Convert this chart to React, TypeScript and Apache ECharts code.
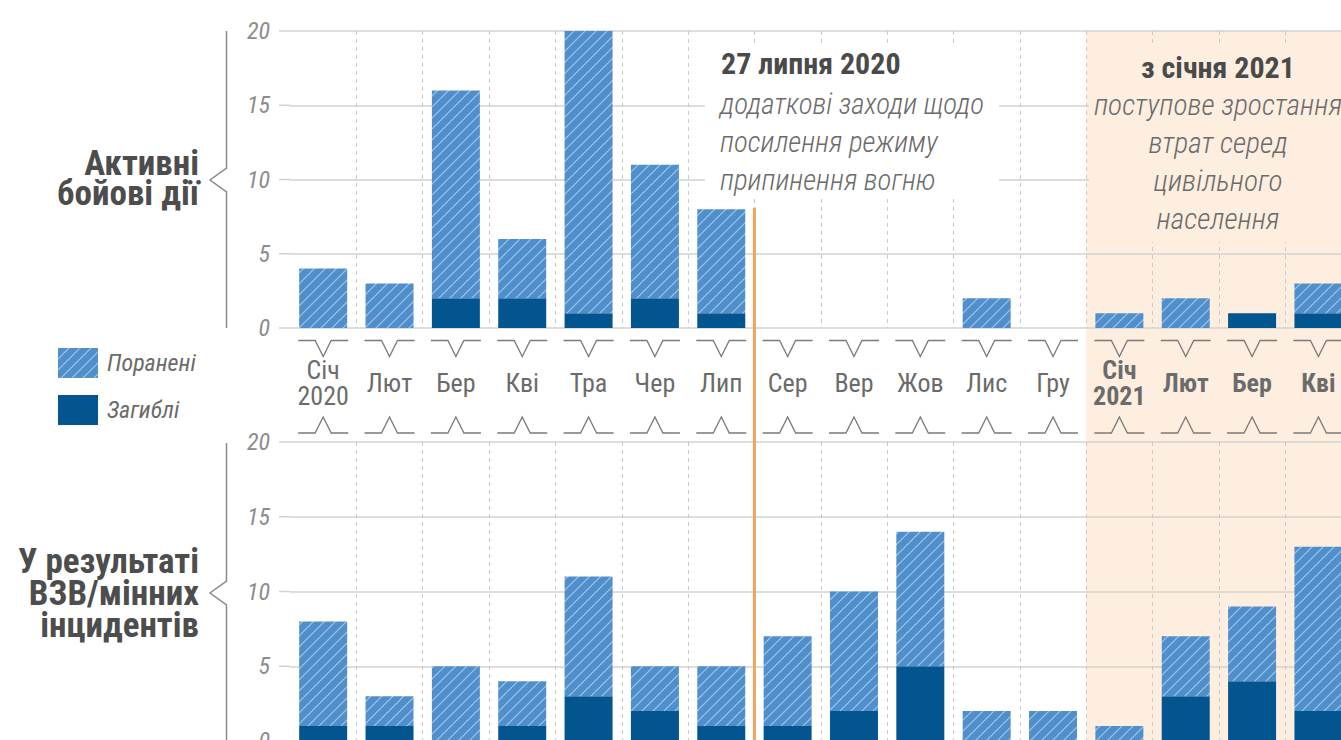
import React, { useEffect, useRef } from "react";
import * as echarts from "echarts";

// ---------- data ----------
const months = [
  "Січ\n2020", "Лют", "Бер", "Кві", "Тра", "Чер", "Лип", "Сер",
  "Вер", "Жов", "Лис", "Гру", "Січ\n2021", "Лют", "Бер", "Кві",
];
const boldFromIndex = 12;

// Active hostilities
const combatKilled = [0, 0, 2, 2, 1, 2, 1, 0, 0, 0, 0, 0, 0, 0, 1, 1];
const combatInjured = [4, 3, 14, 4, 19, 9, 7, 0, 0, 0, 2, 0, 1, 2, 0, 2];

// ERW / mine incidents
const mineKilled = [1, 1, 0, 1, 3, 2, 1, 1, 2, 5, 0, 0, 0, 3, 4, 2];
const mineInjured = [7, 2, 5, 3, 8, 3, 4, 6, 8, 9, 2, 2, 1, 4, 5, 11];

const yTicks = [0, 5, 10, 15, 20];
const ceasefireMonthIndex = 6; // line drawn after "Лип"
const ceasefireLineTop = 8.1;
const shadeFromIndex = 12;

const injuredName = "Поранені";
const killedName = "Загиблі";
const panelTitleTop = ["Активні", "бойові дії"];
const panelTitleBottom = ["У результаті", "ВЗВ/мінних", "інцидентів"];
const note1Title = "27 липня 2020";
const note1Lines = ["додаткові заходи щодо", "посилення режиму", "припинення вогню"];
const note2Title = "з січня 2021";
const note2Lines = ["поступове зростання", "втрат серед", "цивільного", "населення"];

// ---------- styles ----------
const FONT = "'Roboto Condensed', 'Liberation Sans Narrow', 'DejaVu Sans Condensed', Roboto, sans-serif";
const LIGHT = "#4f8fcc";
const DARK = "#02558f";
const PEACH = "#fdeee0";
const GRID_LINE = "#d2d2d2";
const DECOR = "#7a7a7a";

function makeHatch() {
  const S = 11;
  const c = document.createElement("canvas");
  c.width = S;
  c.height = S;
  const ctx = c.getContext("2d")!;
  ctx.fillStyle = LIGHT;
  ctx.fillRect(0, 0, S, S);
  ctx.strokeStyle = "rgba(255,255,255,0.5)";
  ctx.lineWidth = 1.1;
  ctx.beginPath();
  ctx.moveTo(-1, S + 1);
  ctx.lineTo(S + 1, -1);
  ctx.moveTo(-S / 2 - 1, S / 2 + 1);
  ctx.lineTo(S / 2 + 1, -S / 2 - 1);
  ctx.moveTo(S / 2 - 1, S * 1.5 + 1);
  ctx.lineTo(S * 1.5 + 1, S / 2 - 1);
  ctx.stroke();
  return { image: c, repeat: "repeat", imageWidth: S, imageHeight: S } as any;
}

function buildOption() {
  const hatch = makeHatch();
  const GL = 290;
  const GW = 1061.6;

  const yAxisCommon = {
    type: "value",
    min: 0,
    max: 20,
    interval: 5,
    axisLine: { show: false },
    axisTick: { show: false },
    axisLabel: {
      margin: 20,
      fontFamily: FONT,
      fontStyle: "italic",
      fontSize: 24,
      color: "#8c8c8c",
    },
    splitLine: { lineStyle: { color: GRID_LINE, width: 1.5 } },
  };

  const xAxisCommon = {
    type: "category",
    data: months,
    axisLine: { show: false },
    axisTick: { show: false },
    splitLine: {
      show: true,
      showMinLine: false,
      interval: 0,
      lineStyle: { color: "#c9c9c9", width: 1, type: [4, 4] },
    },
  };

  const barCommon = { type: "bar", barWidth: 48, emphasis: { disabled: true }, silent: true };

  const gridExt = (axisIdx: number) => ({
    type: "custom",
    xAxisIndex: axisIdx,
    yAxisIndex: axisIdx,
    clip: false,
    silent: true,
    z: 1,
    data: yTicks.map((v) => [0, v]),
    renderItem: (params: any, api: any) => {
      const p = api.coord([0, api.value(1)]);
      const band = api.size([1, 0])[0];
      const x = p[0] - band / 2;
      return {
        type: "line",
        shape: { x1: x - 11, y1: p[1], x2: x, y2: p[1] },
        style: { stroke: GRID_LINE, lineWidth: 1.5 },
      };
    },
  });

  const graphic: any[] = [];
  // annotation backgrounds
  graphic.push({ type: "rect", shape: { x: 705, y: 45, width: 294, height: 153 }, style: { fill: "#fff" }, z: 1 });
  graphic.push({ type: "rect", shape: { x: 1089, y: 45, width: 300, height: 197 }, style: { fill: PEACH }, z: 1 });
  const txt = (text: string, x: number, y: number, opts: any) => ({
    type: "text",
    x,
    y,
    z: 5,
    style: {
      text,
      fontFamily: FONT,
      align: opts.align || "left",
      textAlign: opts.align || "left",
      verticalAlign: "middle",
      textVerticalAlign: "middle",
      fontSize: opts.size,
      fontWeight: opts.weight || "normal",
      fontStyle: opts.style || "normal",
      fill: opts.color,
    },
  });
  graphic.push(txt(note1Title, 721, 63, { size: 30, weight: "bold", color: "#4a4a4a" }));
  note1Lines.forEach((l, i) =>
    graphic.push(txt(l, 720, 104 + i * 38, { size: 29, weight: 300, style: "italic", color: "#6b6b6b" }))
  );
  graphic.push(txt(note2Title, 1218, 67, { size: 30, weight: "bold", color: "#4a4a4a", align: "center" }));
  note2Lines.forEach((l, i) =>
    graphic.push(txt(l, 1218, 105 + i * 38, { size: 29.5, weight: 300, style: "italic", color: "#6b6b6b", align: "center" }))
  );
  // panel titles
  panelTitleTop.forEach((l, i) =>
    graphic.push(txt(l, 199, 163 + i * 30, { size: 35, weight: "bold", color: "#4d4d4d", align: "right" }))
  );
  panelTitleBottom.forEach((l, i) =>
    graphic.push(txt(l, 199, 561 + i * 32, { size: 35, weight: "bold", color: "#4d4d4d", align: "right" }))
  );
  // brackets
  graphic.push({
    type: "polyline",
    z: 5,
    shape: { points: [[226.5, 31], [226.5, 168], [210, 180], [226.5, 192], [226.5, 328]] },
    style: { stroke: "#8a8a8a", lineWidth: 1.5, fill: "none" },
  });
  graphic.push({
    type: "polyline",
    z: 5,
    shape: { points: [[226.5, 443], [226.5, 581], [210, 593], [226.5, 605], [226.5, 780]] },
    style: { stroke: "#8a8a8a", lineWidth: 1.5, fill: "none" },
  });

  return {
    animation: false,
    backgroundColor: "#fff",
    textStyle: { fontFamily: FONT },
    grid: [
      { left: GL, top: 31, width: GW, height: 297 },
      { left: GL, top: 442, width: GW, height: 299 },
    ],
    xAxis: [
      {
        ...xAxisCommon,
        gridIndex: 0,
        axisLabel: {
          interval: 0,
          margin: 55,
          verticalAlign: "middle",
          formatter: (value: string, index: number) => {
            const key = index >= boldFromIndex ? "b" : "n";
            return value
              .split("\n")
              .map((s) => `{${key}|${s}}`)
              .join("\n");
          },
          rich: {
            n: { fontFamily: FONT, fontSize: 26, lineHeight: 26, color: "#6b6b6b" },
            b: { fontFamily: FONT, fontSize: 26, lineHeight: 26, color: "#6b6b6b", fontWeight: "bold" },
          },
        },
      },
      { ...xAxisCommon, gridIndex: 1, axisLabel: { show: false } },
    ],
    yAxis: [
      { ...yAxisCommon, gridIndex: 0 },
      { ...yAxisCommon, gridIndex: 1 },
    ],
    legend: {
      orient: "vertical",
      left: 58,
      top: 348,
      padding: 0,
      itemWidth: 40,
      itemHeight: 30,
      itemGap: 17,
      icon: "rect",
      selectedMode: false,
      data: [injuredName, killedName],
      textStyle: {
        fontFamily: FONT,
        fontStyle: "italic",
        fontSize: 24,
        color: "#6b6b6b",
        padding: [0, 0, 0, 4],
      },
    },
    graphic,
    series: [
      // shaded 2021 region
      {
        type: "custom",
        name: "shade",
        xAxisIndex: 0,
        yAxisIndex: 0,
        clip: false,
        silent: true,
        z: -1,
        data: [[shadeFromIndex, 20]],
        renderItem: (params: any, api: any) => {
          const p = api.coord([api.value(0), api.value(1)]);
          const band = api.size([1, 0])[0];
          return {
            type: "rect",
            shape: { x: p[0] - band / 2, y: p[1], width: 600, height: 900 },
            style: { fill: PEACH },
          };
        },
      },
      { ...barCommon, name: killedName, xAxisIndex: 0, yAxisIndex: 0, stack: "top", data: combatKilled, itemStyle: { color: DARK } },
      { ...barCommon, name: injuredName, xAxisIndex: 0, yAxisIndex: 0, stack: "top", data: combatInjured, itemStyle: { color: hatch } },
      { ...barCommon, name: killedName, xAxisIndex: 1, yAxisIndex: 1, stack: "bottom", data: mineKilled, itemStyle: { color: DARK } },
      { ...barCommon, name: injuredName, xAxisIndex: 1, yAxisIndex: 1, stack: "bottom", data: mineInjured, itemStyle: { color: hatch } },
      gridExt(0),
      gridExt(1),
      // month separators (V and ^ marks)
      {
        type: "custom",
        name: "marks",
        xAxisIndex: 0,
        yAxisIndex: 0,
        clip: false,
        silent: true,
        z: 3,
        data: months.map((_, i) => [i, 0]),
        renderItem: (params: any, api: any) => {
          const p = api.coord([api.value(0), 0]);
          const cx = p[0];
          const y0 = p[1];
          const top = y0 + 12.5;
          const bot = y0 + 105;
          return {
            type: "group",
            children: [
              {
                type: "polyline",
                shape: { points: [[cx - 25, top], [cx - 8, top], [cx, top + 16], [cx + 8, top], [cx + 25, top]] },
                style: { stroke: DECOR, lineWidth: 1.3, fill: "none" },
              },
              {
                type: "polyline",
                shape: { points: [[cx - 25, bot], [cx - 8, bot], [cx, bot - 16], [cx + 8, bot], [cx + 25, bot]] },
                style: { stroke: DECOR, lineWidth: 1.3, fill: "none" },
              },
            ],
          };
        },
      },
      // ceasefire line
      {
        type: "custom",
        name: "ceasefire",
        xAxisIndex: 0,
        yAxisIndex: 0,
        clip: false,
        silent: true,
        z: 4,
        data: [[ceasefireMonthIndex, ceasefireLineTop]],
        renderItem: (params: any, api: any) => {
          const p = api.coord([api.value(0), api.value(1)]);
          const band = api.size([1, 0])[0];
          const x = p[0] + band / 2;
          return {
            type: "line",
            shape: { x1: x, y1: p[1], x2: x, y2: 900 },
            style: { stroke: "#f5a35c", lineWidth: 3 },
          };
        },
      },
    ],
  };
}

export default function App() {
  const ref = useRef<HTMLDivElement>(null);
  useEffect(() => {
    if (!ref.current) return;
    const chart = echarts.init(ref.current, null, { renderer: "svg" });
    chart.setOption(buildOption() as any);
    return () => chart.dispose();
  }, []);
  return (
    <div
      style={{
        position: "fixed",
        left: 0,
        top: 0,
        width: 1341,
        height: 740,
        overflow: "hidden",
        background: "#fff",
      }}
    >
      <div ref={ref} style={{ width: 1400, height: 790 }} />
    </div>
  );
}
